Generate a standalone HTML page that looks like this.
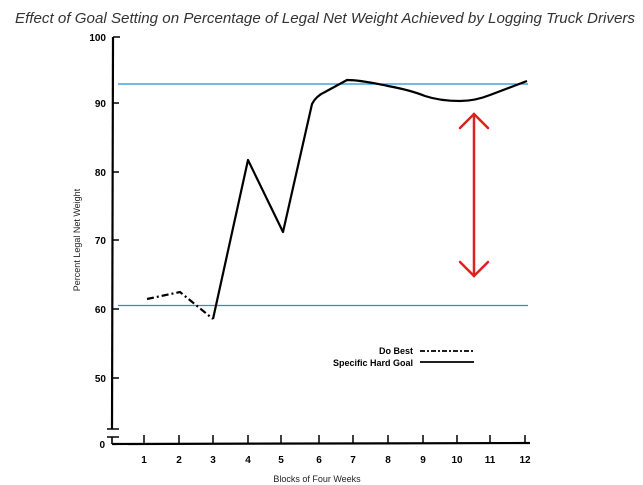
<!DOCTYPE html>
<html><head><style>
html,body{margin:0;padding:0;background:#fff;}
svg{display:block;}
</style></head><body>
<svg width="643" height="485" viewBox="0 0 643 485" xmlns="http://www.w3.org/2000/svg" font-family="Liberation Sans, sans-serif">
<text x="15" y="23" font-size="14.6" font-style="italic" fill="#333" textLength="620" lengthAdjust="spacingAndGlyphs">Effect of Goal Setting on Percentage of Legal Net Weight Achieved by Logging Truck Drivers</text>
<!-- y axis -->
<path d="M113 37 L112 429" stroke="#000" stroke-width="2.2" fill="none"/>
<path d="M107 429 L119 429 M107 437 L119 437 M112 437 L112 444" stroke="#000" stroke-width="1.6"/>
<path d="M112 444 L530 443" stroke="#000" stroke-width="2.2"/>
<g stroke="#000" stroke-width="1.5">
<path d="M113 37 H120 M112 103 H119 M112 172 H119 M112 240 H119 M112 309 H119 M112 378 H119"/>
<path d="M144 435 V444 M179 435 V444 M213 435 V444 M248 435 V444 M281 435 V444 M319 435 V444 M353 435 V444 M388 435 V444 M423 435 V444 M457 435 V444 M490 435 V444 M525 435 V444"/>
</g>
<g font-size="10" font-weight="bold" text-anchor="end">
<text x="106" y="41">100</text><text x="106" y="107">90</text><text x="106" y="176">80</text>
<text x="106" y="244">70</text><text x="106" y="313">60</text><text x="106" y="382">50</text><text x="105" y="448">0</text>
</g>
<g font-size="10" font-weight="bold" text-anchor="middle">
<text x="144" y="463">1</text><text x="179" y="463">2</text><text x="213" y="463">3</text><text x="248" y="463">4</text>
<text x="281" y="463">5</text><text x="319" y="463">6</text><text x="353" y="463">7</text><text x="388" y="463">8</text>
<text x="423" y="463">9</text><text x="457" y="463">10</text><text x="490" y="463">11</text><text x="525" y="463">12</text>
</g>
<text x="317" y="482" font-size="9" text-anchor="middle" fill="#222">Blocks of Four Weeks</text>
<text transform="translate(80,240) rotate(-90)" font-size="9" text-anchor="middle" fill="#222">Percent Legal Net Weight</text>
<!-- blue lines -->
<path d="M118 84 H528 M118 305.5 H528" stroke="#1a94d4" stroke-width="1.2"/>
<!-- do best -->
<path d="M147 299 L180 292 L213 319" stroke="#000" stroke-width="2.2" fill="none" stroke-dasharray="7 3 2 3"/>
<!-- hard goal -->
<path d="M213 319 L248 160 L283 232 L312 104 Q316 96 325 92 L347 80 Q360 80 388 86 Q410 90 425 96 Q440 101 460 101 Q475 101 490 95 L527 81" stroke="#000" stroke-width="2.2" fill="none" stroke-linejoin="round"/>
<!-- legend -->
<text x="413" y="354" font-size="9" font-weight="bold" text-anchor="end">Do Best</text>
<text x="413" y="366" font-size="9" font-weight="bold" text-anchor="end">Specific Hard Goal</text>
<path d="M420 351 H473" stroke="#000" stroke-width="1.8" stroke-dasharray="5 2 2 2"/>
<path d="M420 362 H474" stroke="#000" stroke-width="1.8"/>
<!-- red arrow -->
<g stroke="#e02020" stroke-width="2.5" fill="none" stroke-linecap="round">
<path d="M474 114 V276"/>
<path d="M460 128 L474 114 L488 128"/>
<path d="M460 262 L474 276 L488 262"/>
</g>
</svg>
</body></html>
